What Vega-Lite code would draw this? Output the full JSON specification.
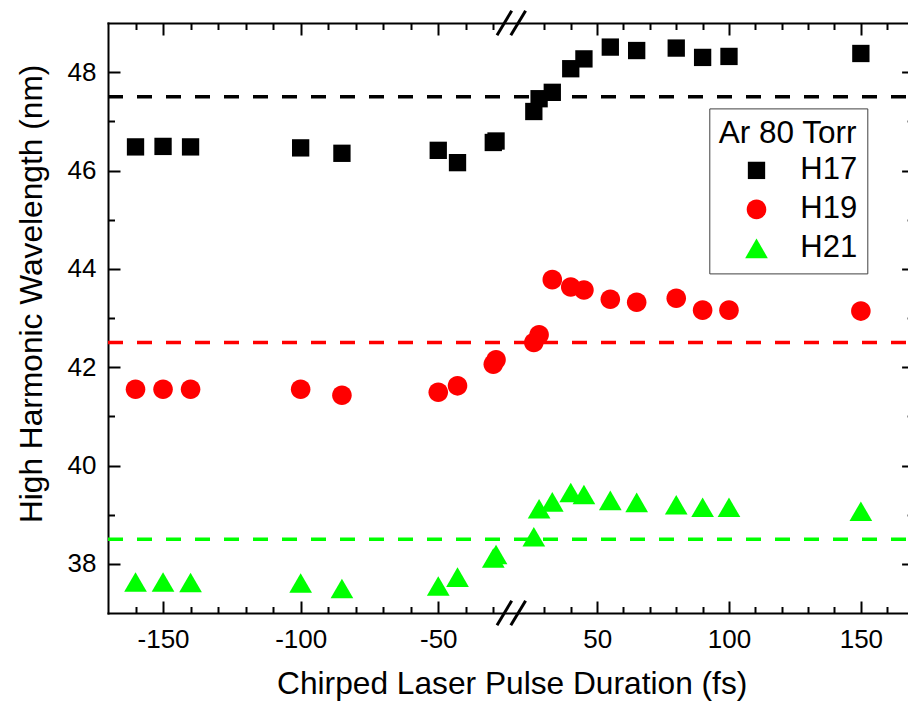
{
  "$schema": "https://vega.github.io/schema/vega-lite/v6.json",
  "width": 800,
  "height": 590,
  "autosize": {"type": "none"},
  "padding": {"left": 108, "top": 23, "right": 0, "bottom": 89},
  "background": "white",
  "config": {
    "view": {"stroke": null},
    "axis": {
      "grid": false,
      "domainColor": "black",
      "domainWidth": 2,
      "domainCap": "square",
      "tickColor": "black",
      "tickWidth": 2,
      "labelFont": "Liberation Sans",
      "labelFontSize": 26,
      "labelColor": "black",
      "titleFont": "Liberation Sans",
      "titleFontSize": 31.7,
      "titleFontWeight": "normal",
      "titleColor": "black"
    },
    "legend": {
      "titleFont": "Liberation Sans",
      "titleFontSize": 31.5,
      "titleFontWeight": "normal",
      "titleColor": "black",
      "labelFont": "Liberation Sans",
      "labelFontSize": 31,
      "labelColor": "black"
    }
  },
  "datasets": {
    "pts": [
      {"series": "H17", "x": -160, "y": 46.48},
      {"series": "H17", "x": -150, "y": 46.49},
      {"series": "H17", "x": -140, "y": 46.48},
      {"series": "H17", "x": -100, "y": 46.46},
      {"series": "H17", "x": -85, "y": 46.35},
      {"series": "H17", "x": -50, "y": 46.41},
      {"series": "H17", "x": -43, "y": 46.16},
      {"series": "H17", "x": -30, "y": 46.57},
      {"series": "H17", "x": -29, "y": 46.6},
      {"series": "H17", "x": 26, "y": 47.2},
      {"series": "H17", "x": 28, "y": 47.46},
      {"series": "H17", "x": 33, "y": 47.59},
      {"series": "H17", "x": 40, "y": 48.07},
      {"series": "H17", "x": 45, "y": 48.27},
      {"series": "H17", "x": 55, "y": 48.51},
      {"series": "H17", "x": 65, "y": 48.44},
      {"series": "H17", "x": 80, "y": 48.49},
      {"series": "H17", "x": 90, "y": 48.3},
      {"series": "H17", "x": 100, "y": 48.32},
      {"series": "H17", "x": 150, "y": 48.38},
      {"series": "H19", "x": -160, "y": 41.55},
      {"series": "H19", "x": -150, "y": 41.55},
      {"series": "H19", "x": -140, "y": 41.55},
      {"series": "H19", "x": -100, "y": 41.55},
      {"series": "H19", "x": -85, "y": 41.43},
      {"series": "H19", "x": -50, "y": 41.49},
      {"series": "H19", "x": -43, "y": 41.62},
      {"series": "H19", "x": -30, "y": 42.06},
      {"series": "H19", "x": -29, "y": 42.15},
      {"series": "H19", "x": 26, "y": 42.5},
      {"series": "H19", "x": 28, "y": 42.66},
      {"series": "H19", "x": 33, "y": 43.78},
      {"series": "H19", "x": 40, "y": 43.63},
      {"series": "H19", "x": 45, "y": 43.57},
      {"series": "H19", "x": 55, "y": 43.38},
      {"series": "H19", "x": 65, "y": 43.32},
      {"series": "H19", "x": 80, "y": 43.4},
      {"series": "H19", "x": 90, "y": 43.16},
      {"series": "H19", "x": 100, "y": 43.16},
      {"series": "H19", "x": 150, "y": 43.14},
      {"series": "H21", "x": -160, "y": 37.63},
      {"series": "H21", "x": -150, "y": 37.63},
      {"series": "H21", "x": -140, "y": 37.62},
      {"series": "H21", "x": -100, "y": 37.61},
      {"series": "H21", "x": -85, "y": 37.5},
      {"series": "H21", "x": -50, "y": 37.55},
      {"series": "H21", "x": -43, "y": 37.73},
      {"series": "H21", "x": -30, "y": 38.12},
      {"series": "H21", "x": -29, "y": 38.19},
      {"series": "H21", "x": 26, "y": 38.55},
      {"series": "H21", "x": 28, "y": 39.12},
      {"series": "H21", "x": 33, "y": 39.26},
      {"series": "H21", "x": 40, "y": 39.45},
      {"series": "H21", "x": 45, "y": 39.41},
      {"series": "H21", "x": 55, "y": 39.29},
      {"series": "H21", "x": 65, "y": 39.25},
      {"series": "H21", "x": 80, "y": 39.2},
      {"series": "H21", "x": 90, "y": 39.15},
      {"series": "H21", "x": 100, "y": 39.15},
      {"series": "H21", "x": 150, "y": 39.07}
    ],
    "lines": [
      {"series": "H17", "x": -170, "x2": 170, "y": 47.5},
      {"series": "H19", "x": -170, "x2": 170, "y": 42.5},
      {"series": "H21", "x": -170, "x2": 170, "y": 38.5}
    ],
    "breaks": [
      {"pos": "top", "x": -28.65, "x2": -1.15, "y": 48.75, "y2": 49.25},
      {"pos": "top", "x": -4.17, "x2": 22.88, "y": 48.75, "y2": 49.25},
      {"pos": "bottom", "x": -28.65, "x2": -1.15, "y": 36.75, "y2": 37.25},
      {"pos": "bottom", "x": -4.17, "x2": 22.88, "y": 36.75, "y2": 37.25}
    ]
  },
  "resolve": {
    "scale": {"x": "independent", "y": "independent"},
    "axis": {"x": "independent", "y": "independent"}
  },
  "layer": [
    {
      "data": {"name": "lines"},
      "transform": [{"filter": "datum.series === 'H17'"}],
      "mark": {"type": "rule", "strokeDash": [15, 14], "strokeWidth": 3.5, "color": "#000000"},
      "encoding": {
        "x": {
          "field": "x", "type": "quantitative",
          "scale": {"domain": [-170, -26, 20, 170], "range": [0, 396.3, 410, 805.6], "zero": false, "nice": false},
          "axis": {"orient": "top", "values": [-150, -100, -50, 50, 100, 150], "labels": false, "tickSize": -12, "title": null}
        },
        "x2": {"field": "x2"},
        "y": {
          "field": "y", "type": "quantitative",
          "scale": {"domain": [37, 49], "zero": false, "nice": false},
          "axis": {"orient": "right", "offset": 5.6, "values": [38, 40, 42, 44, 46, 48], "labels": false, "tickSize": -12, "title": null}
        }
      }
    },
    {
      "data": {"name": "lines"},
      "transform": [{"filter": "datum.series === 'H19'"}],
      "mark": {"type": "rule", "strokeDash": [15, 14], "strokeWidth": 3.5, "color": "#ff0000"},
      "encoding": {
        "x": {
          "field": "x", "type": "quantitative",
          "scale": {"domain": [-170, -26, 20, 170], "range": [0, 396.3, 410, 805.6], "zero": false, "nice": false},
          "axis": null
        },
        "x2": {"field": "x2"},
        "y": {
          "field": "y", "type": "quantitative",
          "scale": {"domain": [37, 49], "zero": false, "nice": false},
          "axis": null
        }
      }
    },
    {
      "data": {"name": "lines"},
      "transform": [{"filter": "datum.series === 'H21'"}],
      "mark": {"type": "rule", "strokeDash": [15, 14], "strokeWidth": 3.5, "color": "#00ff00"},
      "encoding": {
        "x": {
          "field": "x", "type": "quantitative",
          "scale": {"domain": [-170, -26, 20, 170], "range": [0, 396.3, 410, 805.6], "zero": false, "nice": false},
          "axis": null
        },
        "x2": {"field": "x2"},
        "y": {
          "field": "y", "type": "quantitative",
          "scale": {"domain": [37, 49], "zero": false, "nice": false},
          "axis": null
        }
      }
    },
    {
      "data": {"name": "pts"},
      "mark": {"type": "point", "filled": true, "opacity": 1, "size": 300, "strokeWidth": 0},
      "encoding": {
        "x": {
          "field": "x", "type": "quantitative",
          "scale": {"domain": [-170, -26, 20, 170], "range": [0, 396.3, 410, 805.6], "zero": false, "nice": false},
          "axis": {
            "orient": "bottom", "values": [-150, -100, -50, 50, 100, 150], "tickSize": -12, "labelPadding": 25,
            "labelExpr": "'' + datum.value",
            "title": "Chirped Laser Pulse Duration (fs)", "titleX": 403.7, "titleY": 80, "titleBaseline": "alphabetic", "titleAlign": "center"
          }
        },
        "y": {
          "field": "y", "type": "quantitative",
          "scale": {"domain": [37, 49], "zero": false, "nice": false},
          "axis": {
            "orient": "left", "values": [38, 40, 42, 44, 46, 48], "tickSize": -12, "labelPadding": 24,
            "title": "High Harmonic Wavelength (nm)", "titleX": -59.8, "titleY": 270.4, "titleAngle": 270, "titleBaseline": "bottom", "titleAlign": "center"
          }
        },
        "color": {
          "field": "series", "type": "nominal",
          "scale": {"domain": ["H17", "H19", "H21"], "range": ["#000000", "#ff0000", "#00ff00"]},
          "legend": {
            "title": "Ar 80 Torr", "orient": "none", "legendX": 601.3, "legendY": 85.4,
            "padding": 9.5, "strokeColor": "#404040", "fillColor": "white",
            "titlePadding": 5.5, "rowPadding": 7, "symbolSize": 300, "symbolOffset": 22.2, "labelOffset": 28.3,
            "symbolStrokeWidth": 0
          }
        },
        "shape": {
          "field": "series", "type": "nominal",
          "scale": {"domain": ["H17", "H19", "H21"], "range": ["square", "M1.13,0A1.13,1.13,0,1,1,-1.13,0A1.13,1.13,0,1,1,1.13,0Z", "M0,-1.13L1.31,1.13L-1.31,1.13Z"]},
          "legend": {
            "title": "Ar 80 Torr", "orient": "none", "legendX": 601.3, "legendY": 85.4,
            "padding": 9.5, "strokeColor": "#404040", "fillColor": "white",
            "titlePadding": 5.5, "rowPadding": 7, "symbolSize": 300, "symbolOffset": 22.2, "labelOffset": 28.3,
            "symbolStrokeWidth": 0
          }
        }
      }
    },
    {
      "data": {"name": "breaks"},
      "transform": [{"filter": "datum.pos === 'top'"}],
      "mark": {"type": "rule", "strokeWidth": 3, "color": "black"},
      "encoding": {
        "x": {
          "field": "x", "type": "quantitative",
          "scale": {"domain": [-170, -26, 20, 170], "range": [0, 396.3, 410, 805.6], "zero": false, "nice": false},
          "axis": {"orient": "top", "values": [-160, -140, -130, -120, -110, -90, -80, -70, -60, -40, -30, 30, 40, 60, 70, 80, 90, 110, 120, 130, 140, 160], "labels": false, "domain": false, "tickSize": -6.5, "title": null}
        },
        "x2": {"field": "x2"},
        "y": {
          "field": "y", "type": "quantitative",
          "scale": {"domain": [37, 49], "zero": false, "nice": false},
          "axis": {"orient": "right", "offset": 5.6, "values": [39, 41, 43, 45, 47], "labels": false, "domain": false, "tickSize": -6.5, "title": null}
        },
        "y2": {"field": "y2"}
      }
    },
    {
      "data": {"name": "breaks"},
      "transform": [{"filter": "datum.pos === 'bottom'"}],
      "mark": {"type": "rule", "strokeWidth": 3, "color": "black"},
      "encoding": {
        "x": {
          "field": "x", "type": "quantitative",
          "scale": {"domain": [-170, -26, 20, 170], "range": [0, 396.3, 410, 805.6], "zero": false, "nice": false},
          "axis": {"orient": "bottom", "values": [-160, -140, -130, -120, -110, -90, -80, -70, -60, -40, -30, 30, 40, 60, 70, 80, 90, 110, 120, 130, 140, 160], "labels": false, "domain": false, "tickSize": -6.5, "title": null}
        },
        "x2": {"field": "x2"},
        "y": {
          "field": "y", "type": "quantitative",
          "scale": {"domain": [37, 49], "zero": false, "nice": false},
          "axis": {"orient": "left", "values": [39, 41, 43, 45, 47], "labels": false, "domain": false, "tickSize": -6.5, "title": null}
        },
        "y2": {"field": "y2"}
      }
    }
  ]
}
